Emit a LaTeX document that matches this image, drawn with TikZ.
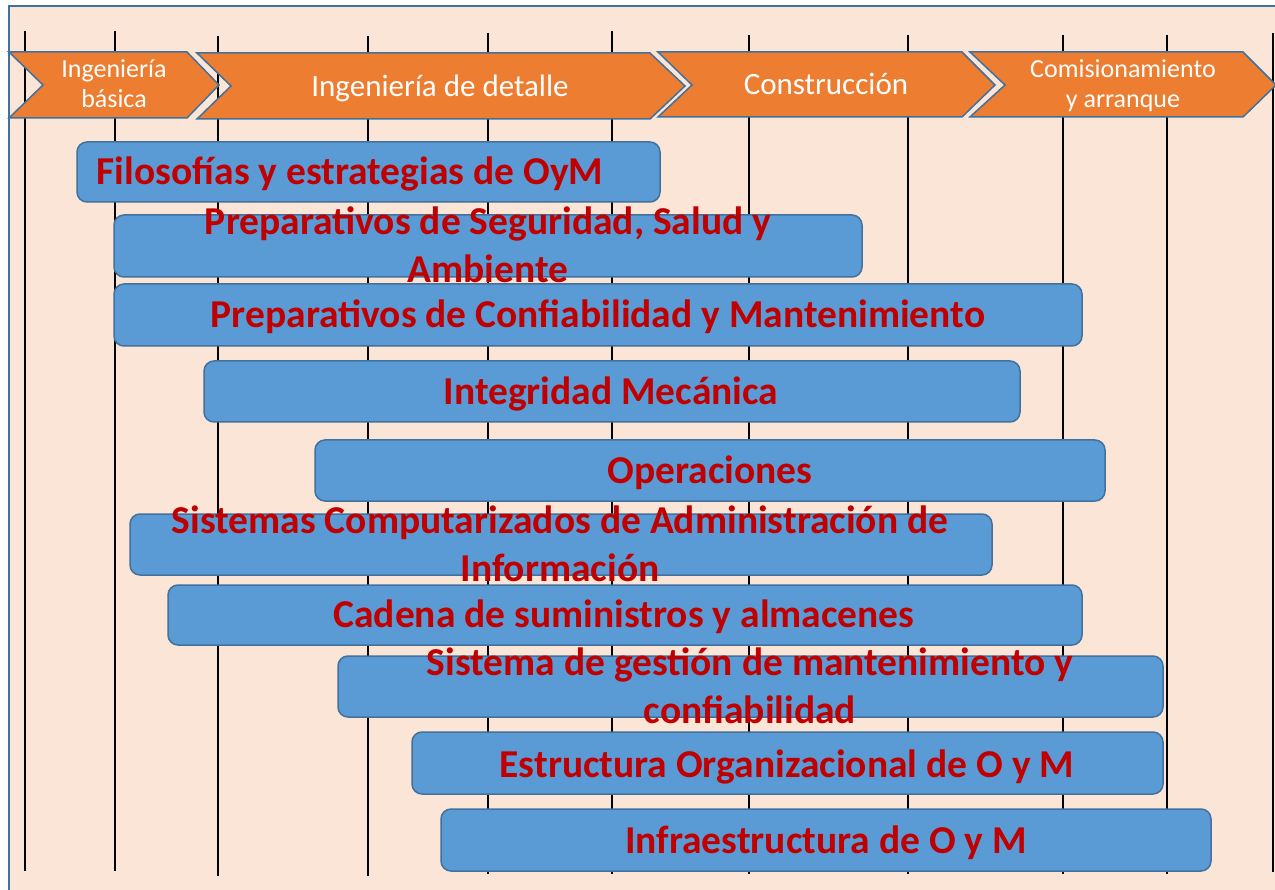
\documentclass[tikz,border=0pt]{standalone}
\usepackage{fontspec}
\setmainfont{Carlito}

\definecolor{sheet}{HTML}{FBE5D6}
\definecolor{frameblue}{HTML}{41719C}
\definecolor{phaseorange}{HTML}{ED7D31}
\definecolor{taskblue}{HTML}{5B9BD5}
\definecolor{taskred}{HTML}{C00000}

\tikzset{
  phase/.style={fill=phaseorange,draw=frameblue,line width=1.5pt},
  phasetext/.style={text=white,align=center,inner sep=0pt,anchor=base,font=\fontsize{26}{30}\selectfont},
  bigphase/.style={phasetext,font=\fontsize{31}{34}\selectfont},
  task/.style={fill=taskblue,draw=frameblue,line width=1.5pt,rounded corners=10pt},
  tasktext/.style={text=taskred,align=center,inner sep=0pt,anchor=base,font=\bfseries\fontsize{39.5}{48}\selectfont}
}

\begin{document}
\begin{tikzpicture}[x=1pt,y=-1pt]
    \useasboundingbox (0,0) rectangle (1275,890);

    % background sheet
    \draw[fill=sheet,draw=frameblue,line width=2pt] (9,6) rectangle (1295,910);

    % time grid (x / top / bottom)
    \foreach \x/\t/\b in {25/31/871,115/31/871,218/36/876,368/36/876,488/33/874,612/31/874,
                          749/35/874,908/35/874,1063/35/874,1167/35/874,1273/33/872}
        \draw[line width=2pt] (\x,\t) -- (\x,\b);

    % project phases
    \draw[phase] (9,52) -- (187,52) -- (219,85) -- (187,118) -- (9,118) -- (43,85) -- cycle;
    \draw[phase] (197,53) -- (650,53) -- (685,86) -- (650,119) -- (197,119) -- (231,86) -- cycle;
    \draw[phase] (658,52) -- (962,52) -- (995,85) -- (962,117) -- (658,117) -- (692,85) -- cycle;
    \draw[phase] (970,52) -- (1243,52) -- (1276,85) -- (1243,117) -- (970,117) -- (1005,85) -- cycle;

    % (base of a two-line text = its last line)
    \node[phasetext] (basica) at (114,108) {Ingeniería\\básica};
    \node[bigphase] (detalle) at (440,97) {Ingeniería de detalle};
    \node[bigphase] (construccion) at (826,95) {Construcción};
    \node[phasetext] (comisionamiento) at (1123,108) {Comisionamiento\\y arranque};

    % activities
    \draw[task] (77,142) rectangle (660,202);
    \node[tasktext] (filosofias) at (350,185) {Filosofías y estrategias de OyM};

    \draw[task] (114,215) rectangle (862,277);
    \node[tasktext] (seguridad) at (488,283) {Preparativos de Seguridad, Salud y\\Ambiente};

    \draw[task] (114,284) rectangle (1082,346);
    \node[tasktext] (confiabilidad) at (598,328) {Preparativos de Confiabilidad y Mantenimiento};

    \draw[task] (204,361) rectangle (1020,422);
    \node[tasktext] (integridad) at (611,405) {Integridad Mecánica};

    \draw[task] (315,440) rectangle (1105,501);
    \node[tasktext] (operaciones) at (710,484) {Operaciones};

    \draw[task] (130,514) rectangle (992,575);
    \node[tasktext] (sistemas) at (560,581) {Sistemas Computarizados de Administración de\\Información};

    \draw[task] (168,585) rectangle (1082,645);
    \node[tasktext] (cadena) at (624,627) {Cadena de suministros y almacenes};

    \draw[task] (338,656) rectangle (1163,717);
    \node[tasktext] (gestion) at (750,723) {Sistema de gestión de mantenimiento y\\confiabilidad};

    \draw[task] (412,732) rectangle (1163,794);
    \node[tasktext] (estructura) at (787,777) {Estructura Organizacional de O y M};

    \draw[task] (441,809) rectangle (1211,871);
    \node[tasktext] (infraestructura) at (826,853) {Infraestructura de O y M};
\end{tikzpicture}
\end{document}
